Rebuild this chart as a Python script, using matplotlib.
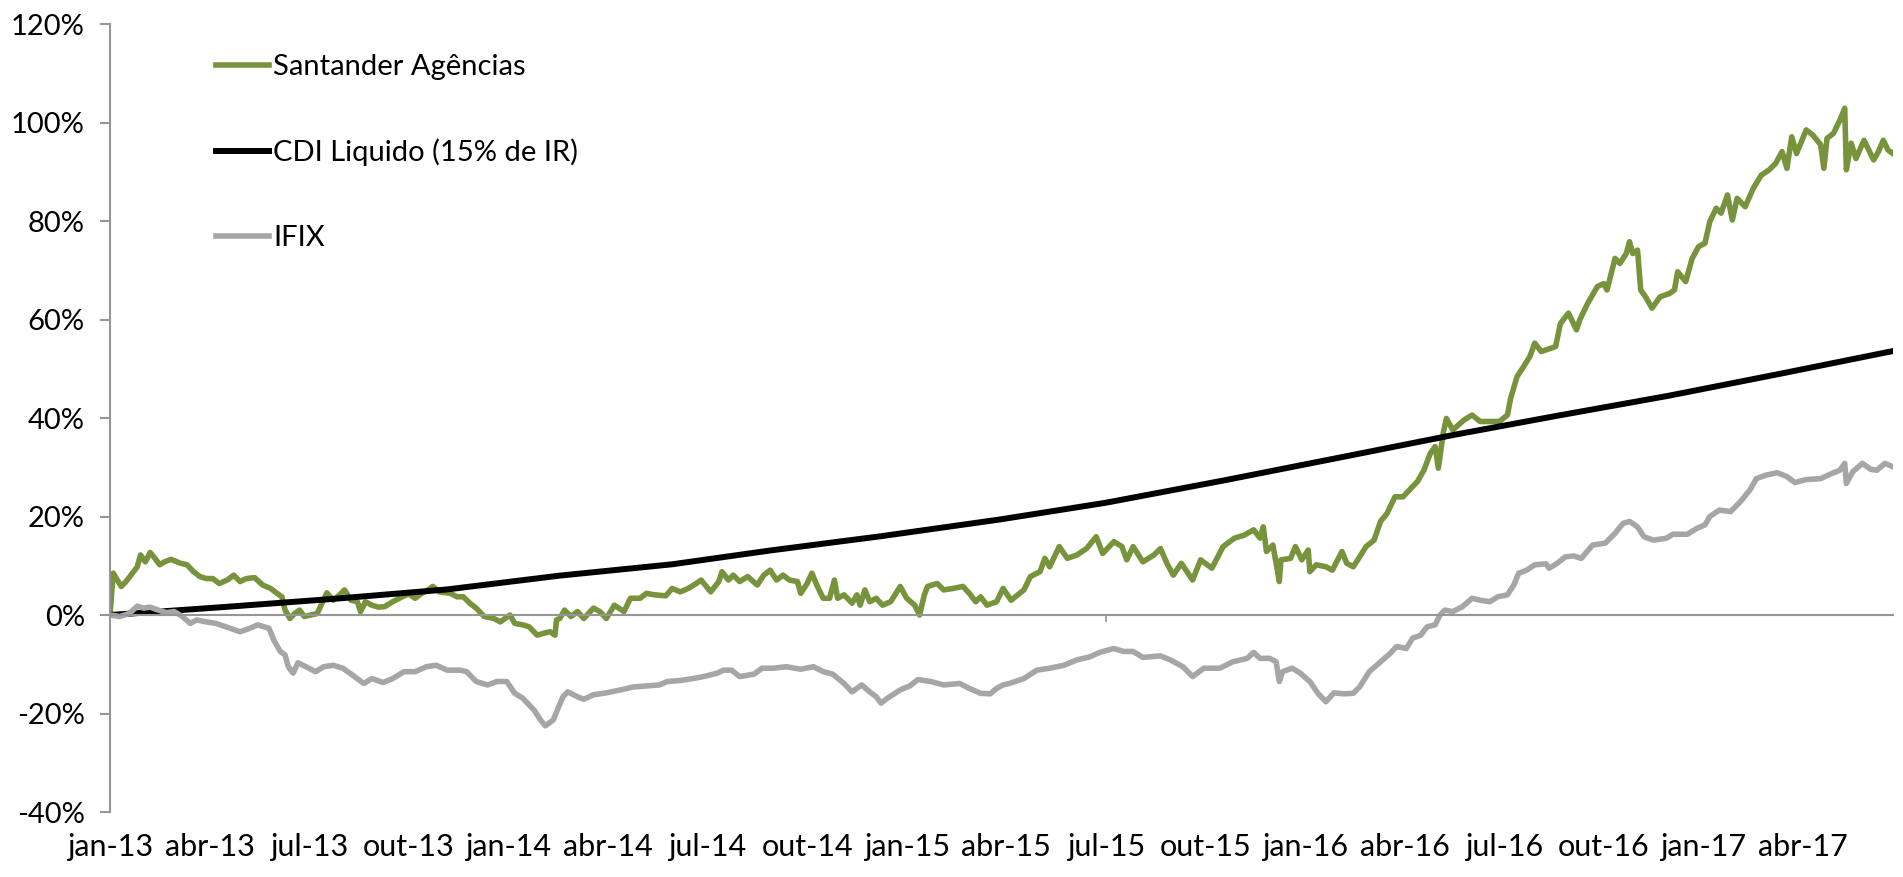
import matplotlib
matplotlib.use("Agg")
import matplotlib.pyplot as plt
import numpy as np

plt.rcParams['font.family'] = ['Lato', 'DejaVu Sans']

# rentabilidade acumulada (%) por pregao (indice de dia util desde jan-13)
dias_santander = [
    0, 2, 4, 7, 10, 13, 17, 19, 22, 25, 28, 31, 34, 38, 44, 48, 52, 56, 60, 64,
    68, 73, 77, 81, 85, 90, 95, 100, 104, 107, 109, 112, 115, 118, 121, 125, 129, 132, 135, 139,
    143, 146, 150, 154, 156, 159, 163, 167, 171, 176, 182, 186, 190, 194, 198, 201, 205, 212, 216, 220,
    224, 228, 233, 239, 243, 249, 252, 257, 261, 266, 270, 274, 277, 278, 280, 283, 287, 291, 295, 301,
    305, 309, 314, 320, 324, 330, 334, 339, 346, 350, 355, 360, 365, 368, 374, 379, 381, 385, 388, 392,
    397, 403, 407, 411, 415, 419, 423, 428, 430, 434, 437, 440, 444, 448, 451, 453, 457, 462, 465, 467,
    470, 473, 477, 481, 486, 492, 496, 501, 504, 507, 509, 515, 519, 525, 531, 535, 539, 542, 546, 552,
    556, 561, 569, 573, 579, 582, 585, 591, 596, 602, 608, 614, 618, 625, 630, 633, 637, 643, 650, 654,
    658, 662, 667, 674, 679, 686, 693, 700, 706, 712, 716, 718, 720, 724, 728, 729, 735, 738, 742, 746,
    747, 751, 757, 761, 767, 770, 774, 778, 782, 787, 791, 795, 800, 805, 809, 814, 818, 822, 825, 827,
    830, 832, 836, 843, 848, 853, 859, 865, 870, 872, 876, 880, 884, 887, 891, 900, 903, 908, 913, 915,
    920, 926, 930, 932, 937, 940, 944, 946, 948, 951, 953, 956, 960, 965, 971, 974, 976, 981, 985, 989,
    993, 996, 1000, 1003, 1007, 1010, 1013, 1018, 1023, 1028, 1033, 1037, 1041, 1044, 1047, 1050, 1053, 1056, 1060, 1065,
    1067, 1069, 1073, 1077, 1080, 1081, 1084, 1087, 1092, 1096, 1098, 1101, 1104, 1107, 1110,
]
santander = [
    0.0, 8.5, 7.4, 5.8, 6.8, 8.1, 9.8, 12.2, 10.8, 12.7, 11.5, 10.2, 10.8, 11.3, 10.5, 10.2, 8.8, 7.8, 7.4, 7.4,
    6.4, 7.1, 8.1, 6.8, 7.4, 7.6, 6.1, 5.4, 4.4, 3.7, 1.0, -0.7, 0.3, 1.0, -0.3, 0.0, 0.3, 2.4, 4.5, 3.0,
    4.1, 5.1, 3.0, 2.7, 0.7, 2.7, 2.0, 1.6, 1.7, 2.7, 3.7, 4.3, 3.4, 4.4, 5.1, 5.8, 4.7, 4.4, 3.7, 3.7,
    2.4, 1.4, -0.3, -0.7, -1.4, 0.0, -1.7, -2.0, -2.4, -4.1, -3.7, -3.4, -4.1, -1.0, -0.7, 1.0, -0.3, 0.7, -0.7, 1.4,
    0.7, -0.7, 2.0, 0.7, 3.4, 3.4, 4.4, 4.1, 3.9, 5.4, 4.7, 5.4, 6.4, 7.1, 4.7, 6.8, 8.8, 7.1, 8.1, 6.8,
    7.8, 6.1, 8.1, 9.1, 7.1, 8.1, 7.1, 6.8, 4.4, 6.4, 8.5, 6.1, 3.4, 3.4, 7.1, 3.4, 4.1, 2.4, 4.1, 2.0,
    5.1, 2.7, 3.4, 2.0, 2.7, 5.8, 3.4, 2.0, 0.0, 4.1, 5.8, 6.4, 5.1, 5.4, 5.8, 4.4, 2.7, 3.7, 2.0, 2.7,
    5.4, 3.0, 5.1, 7.8, 8.8, 11.5, 9.8, 13.9, 11.5, 12.2, 13.5, 15.9, 12.5, 14.9, 13.9, 11.2, 13.9, 10.8, 12.2, 13.5,
    10.5, 8.1, 10.5, 7.1, 11.2, 9.5, 13.9, 15.6, 16.2, 17.3, 15.6, 17.9, 12.9, 14.2, 6.8, 11.2, 11.5, 13.9, 11.2, 13.2,
    8.8, 10.2, 9.8, 9.1, 12.9, 10.5, 9.8, 11.8, 13.9, 15.2, 19.0, 20.6, 24.0, 24.0, 25.4, 27.1, 29.4, 32.8, 34.2, 29.8,
    36.9, 39.9, 37.6, 39.6, 40.6, 39.3, 39.3, 39.3, 40.6, 44.0, 48.4, 50.4, 52.5, 55.2, 53.5, 54.5, 59.2, 61.3, 57.9, 59.9,
    63.3, 66.7, 67.3, 66.0, 72.4, 71.4, 73.4, 75.8, 73.4, 74.1, 66.0, 64.6, 62.3, 64.6, 65.3, 66.0, 69.7, 67.7, 72.4, 74.8,
    75.5, 79.9, 82.6, 81.6, 85.3, 80.2, 84.6, 82.9, 86.6, 89.3, 90.4, 91.7, 94.1, 90.7, 97.1, 93.7, 96.1, 98.5, 97.5, 95.5,
    90.7, 96.8, 97.8, 100.5, 102.9, 90.4, 95.8, 92.7, 96.4, 93.7, 92.4, 94.1, 96.4, 94.4, 93.7,
]

dias_cdi = [0, 70, 140, 210, 280, 350, 411, 480, 554, 620, 693, 766, 837, 900, 970, 1040, 1110]
cdi = [0.0, 1.6, 3.3, 5.2, 8.0, 10.3, 13.1, 16.0, 19.4, 22.8, 27.3, 32.0, 36.6, 40.4, 44.5, 49.0, 53.6]

dias_ifix = [
    0, 6, 12, 17, 21, 25, 30, 35, 40, 45, 50, 54, 60, 66, 73, 81, 87, 92, 99, 102,
    106, 109, 111, 114, 117, 122, 128, 133, 139, 145, 151, 158, 163, 170, 176, 183, 190, 197, 203, 210,
    218, 222, 228, 235, 241, 247, 252, 257, 264, 268, 271, 276, 279, 282, 285, 291, 295, 301, 309, 318,
    326, 334, 342, 347, 355, 363, 371, 378, 382, 387, 392, 401, 406, 413, 421, 430, 438, 444, 450, 457,
    462, 468, 473, 477, 480, 484, 492, 498, 503, 511, 519, 529, 535, 542, 548, 552, 556, 560, 569, 577,
    585, 594, 602, 610, 616, 625, 631, 637, 643, 654, 660, 668, 674, 681, 691, 699, 708, 712, 716, 722,
    726, 728, 730, 736, 741, 747, 752, 757, 762, 768, 774, 778, 784, 791, 797, 801, 807, 811, 816, 820,
    825, 828, 831, 836, 842, 848, 853, 859, 864, 870, 874, 877, 882, 887, 894, 896, 901, 906, 911, 916,
    923, 931, 937, 942, 946, 951, 955, 961, 969, 973, 982, 988, 993, 996, 1002, 1009, 1015, 1021, 1025, 1031,
    1038, 1044, 1049, 1056, 1065, 1071, 1077, 1080, 1081, 1085, 1091, 1096, 1100, 1105, 1110,
]
ifix = [
    0.0, -0.3, 0.3, 1.8, 1.4, 1.6, 1.0, 0.5, 0.7, -0.3, -1.7, -1.0, -1.4, -1.7, -2.5, -3.4, -2.7, -2.0, -2.7, -5.1,
    -7.4, -8.1, -10.5, -11.8, -9.7, -10.5, -11.5, -10.5, -10.2, -10.8, -12.2, -13.9, -12.9, -13.7, -12.9, -11.5, -11.5, -10.5, -10.2, -11.2,
    -11.2, -11.5, -13.5, -14.2, -13.5, -13.5, -15.9, -16.9, -19.3, -21.3, -22.5, -21.3, -18.9, -16.6, -15.6, -16.6, -17.1, -16.2, -15.8, -15.2,
    -14.6, -14.4, -14.2, -13.5, -13.3, -12.9, -12.4, -11.8, -11.2, -11.2, -12.5, -12.0, -10.8, -10.8, -10.5, -11.0, -10.5, -11.5, -12.0, -13.9,
    -15.6, -14.2, -15.6, -16.6, -17.9, -16.9, -15.2, -14.4, -13.1, -13.5, -14.2, -13.9, -14.9, -15.9, -16.0, -14.9, -14.2, -13.9, -12.9, -11.2,
    -10.8, -10.2, -9.1, -8.5, -7.6, -6.8, -7.4, -7.4, -8.6, -8.3, -9.1, -10.5, -12.5, -10.8, -10.8, -9.5, -8.8, -7.6, -8.8, -8.8,
    -9.5, -13.5, -11.5, -10.8, -11.8, -13.5, -15.9, -17.6, -15.8, -16.0, -15.9, -14.6, -11.5, -9.5, -7.8, -6.4, -6.8, -4.7, -4.1, -2.4,
    -2.0, 0.0, 1.0, 0.7, 1.7, 3.4, 3.0, 2.7, 3.7, 4.1, 6.1, 8.5, 9.1, 10.2, 10.4, 9.5, 10.5, 11.8, 12.0, 11.5,
    14.2, 14.6, 16.6, 18.6, 19.0, 17.9, 15.9, 15.2, 15.6, 16.4, 16.4, 17.6, 18.3, 20.0, 21.3, 21.0, 23.0, 25.4, 27.7, 28.4,
    28.9, 28.1, 26.9, 27.5, 27.7, 28.6, 29.4, 30.8, 26.7, 29.1, 30.8, 29.6, 29.4, 30.8, 30.1,
]

rotulos_x = ['jan-13', 'abr-13', 'jul-13', 'out-13', 'jan-14', 'abr-14', 'jul-14', 'out-14', 'jan-15',
             'abr-15', 'jul-15', 'out-15', 'jan-16', 'abr-16', 'jul-16', 'out-16', 'jan-17', 'abr-17']
pregoes_por_trimestre = 62

verde = '#77933c'
cinza = '#a6a6a6'
cinza_eixo = '#969696'

fig = plt.figure(figsize=(19.03, 8.77), dpi=100)
ax = fig.add_axes([0.0578, 0.0741, 0.9369, 0.8985])

ax.plot(dias_santander, santander, color=verde, lw=4.0, label='Santander Agências',
        solid_joinstyle='round')
ax.plot(dias_cdi, cdi, color='black', lw=4.3, label='CDI Liquido (15% de IR)')
ax.plot(dias_ifix, ifix, color=cinza, lw=4.0, label='IFIX', solid_joinstyle='round')

ax.set_xlim(0, dias_santander[-1])
ax.set_ylim(-40, 120)
ax.set_yticks(np.arange(-40, 121, 20))
ax.set_yticklabels(['{:.0f}%'.format(v) for v in np.arange(-40, 121, 20)])

for lado in ['top', 'right']:
    ax.spines[lado].set_visible(False)
ax.spines['left'].set_color(cinza_eixo)
ax.spines['left'].set_linewidth(1.5)
ax.spines['bottom'].set_position(('data', 0))
ax.spines['bottom'].set_color(cinza_eixo)
ax.spines['bottom'].set_linewidth(1.5)

# marca unica no eixo do zero (jul-15)
ax.set_xticks([10 * pregoes_por_trimestre])
ax.set_xticklabels([''])
ax.tick_params(axis='x', direction='out', length=5, width=1.2, color=cinza_eixo)
ax.tick_params(axis='y', direction='out', length=7, width=1.5, color=cinza_eixo,
               labelsize=21, pad=11)

# rotulos de data na base
sec = ax.secondary_xaxis('bottom')
sec.set_xticks(np.arange(len(rotulos_x)) * pregoes_por_trimestre)
sec.set_xticklabels(rotulos_x)
sec.spines['bottom'].set_visible(False)
sec.tick_params(length=0, labelsize=22, pad=15)

ax.legend(loc='upper left', bbox_to_anchor=(0.0595, 0.962), frameon=False, fontsize=21,
          handlelength=1.8, handletextpad=0.15, labelspacing=2.02, borderpad=0, borderaxespad=0)

fig.savefig('out.png', dpi=100)
